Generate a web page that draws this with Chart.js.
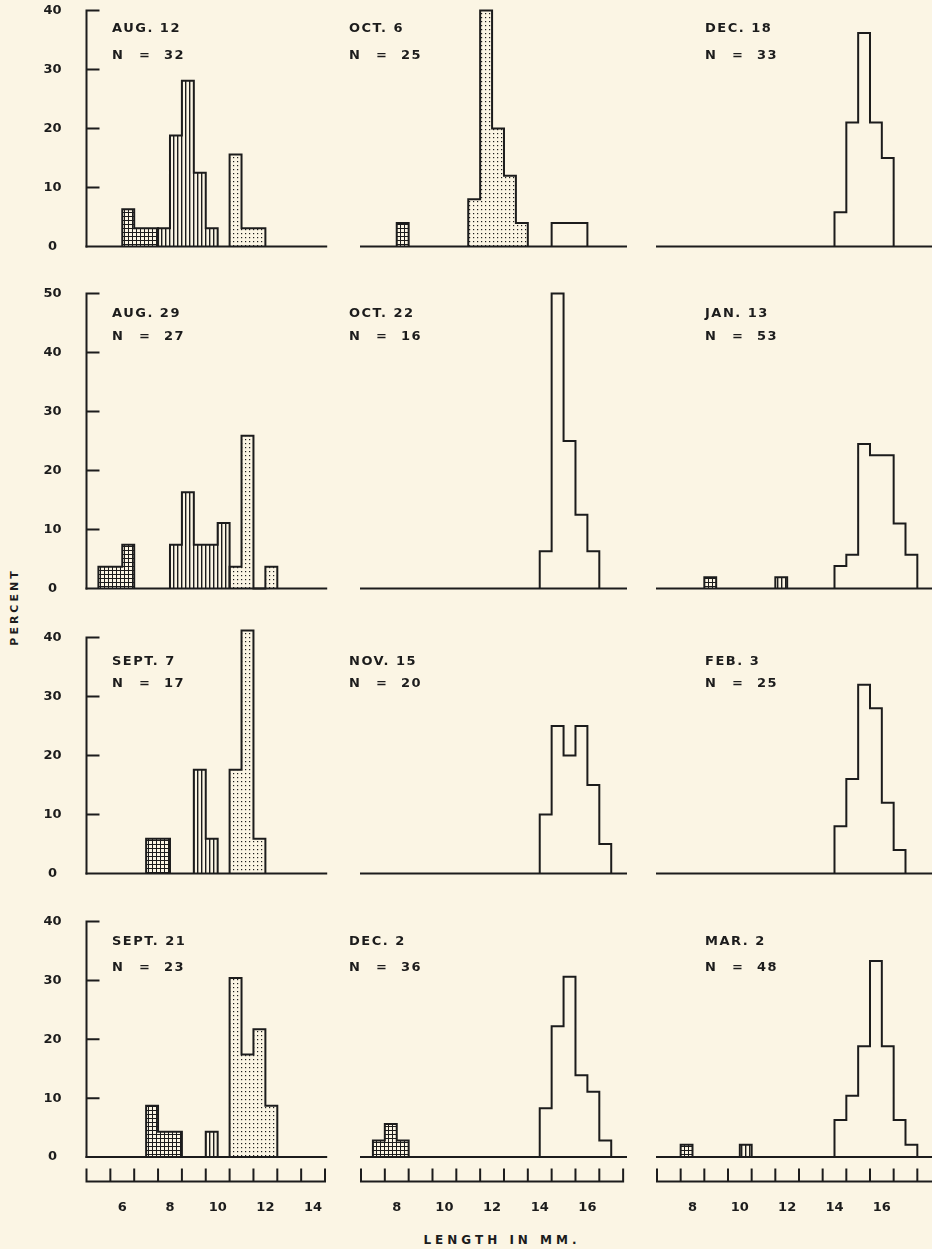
<!DOCTYPE html>
<html>
<head>
<meta charset="utf-8">
<script src="https://cdn.jsdelivr.net/npm/chart.js@4.4.1/dist/chart.umd.min.js"></script>
<style>
  html, body { margin: 0; padding: 0; background: #fbf5e4; }
  #page { position: relative; width: 932px; height: 1249px; overflow: hidden; }
  canvas { position: absolute; }
  .label { position: absolute; font-family: "DejaVu Sans", sans-serif; font-weight: bold; color: #1c1c1c; white-space: nowrap; }
  #ylabel { left: 14px; top: 607px; font-size: 11px; letter-spacing: 3px; transform: translate(-50%, -50%) rotate(-90deg); }
  #xlabel { left: 502px; top: 1240px; font-size: 12px; letter-spacing: 4px; transform: translate(-50%, -50%); }
</style>
</head>
<body>
<div id="page">
  <div id="ylabel" class="label">PERCENT</div>
  <div id="xlabel" class="label">LENGTH IN MM.</div>
</div>
<script>
// ---- data (percent of sample in each 0.5 mm length class) ----
var binWidth = 0.5;

var dates = ["AUG. 12", "OCT. 6", "DEC. 18", "AUG. 29", "OCT. 22", "JAN. 13",
             "SEPT. 7", "NOV. 15", "FEB. 3", "SEPT. 21", "DEC. 2", "MAR. 2"];
var sampleN = [32, 25, 33, 27, 16, 53, 17, 20, 25, 23, 36, 48];

// lower edge (mm) of the first class of each group, panel by panel (null = none)
var crossStart = [6.0, 8.0, null, 5.0, null, 8.5, 7.0, null, null, 7.0, 7.0, 7.5];
var crossPct = [[6.3, 3.1, 3.1], [4], [], [3.7, 3.7, 7.4], [], [1.9],
                [5.9, 5.9], [], [], [8.7, 4.3, 4.3], [2.8, 5.6, 2.8], [2.1]];

var barredStart = [7.5, null, null, 8.0, null, 11.5, 9.0, null, null, 9.5, null, 10.0];
var barredPct = [[3.1, 18.8, 28.1, 12.5, 3.1], [], [], [7.4, 16.3, 7.4, 7.4, 11.1], [], [1.9],
                 [17.6, 5.9], [], [], [4.3], [], [2.1]];

var dottedStart = [10.5, 11.0, null, 10.5, null, null, 10.5, null, null, 10.5, null, null];
var dottedPct = [[15.6, 3.1, 3.1], [8, 40, 20, 12, 4], [], [3.7, 25.9, 0, 3.7], [], [],
                 [17.6, 41.2, 5.9], [], [], [30.4, 17.4, 21.7, 8.7], [], []];

var openStart = [null, 14.5, 14.0, null, 14.0, 14.0, null, 14.0, 14.0, null, 14.0, 14.0];
var openPct = [[], [4, 4, 4], [5.8, 21, 36.2, 21, 15], [], [6.3, 50, 25, 12.5, 6.3],
               [3.8, 5.7, 24.5, 22.6, 22.6, 11, 5.7], [], [10, 25, 20, 25, 15, 5],
               [8, 16, 32, 28, 12, 4], [], [8.3, 22.2, 30.6, 13.9, 11.1, 2.8],
               [6.3, 10.4, 18.8, 33.3, 18.8, 6.3, 2.1]];

var yTicks = [[0, 10, 20, 30, 40], [0, 10, 20, 30, 40, 50], [0, 10, 20, 30, 40], [0, 10, 20, 30, 40]];
var xTickLabels = [[6, 8, 10, 12, 14], [8, 10, 12, 14, 16], [8, 10, 12, 14, 16]];

// ---- layout ----
var ink = "#1c1c1c";
var headroom = 1.5;
var cols = [
  { left: 0, width: 340, xMin: 4.5, xMax: 14.55, areaL: 86.5, areaR: 326.2, ruler: [4.5, 14.5], textX: 112 },
  { left: 340, width: 296, xMin: 6.5, xMax: 17.62, areaL: 361, areaR: 626, ruler: [6.5, 17.5], textX: 349 },
  { left: 640, width: 292, xMin: 6.5, xMax: 18.12, areaL: 657, areaR: 932, ruler: [6.5, 18.5], textX: 705 }
];
var rows = [
  { top: 0, height: 258, base: 246.5, topTick: 10.5, titleY: 29, nY: 55.5 },
  { top: 262, height: 336, base: 588.5, topTick: 293.5, titleY: 313.5, nY: 337 },
  { top: 600, height: 283, base: 873.5, topTick: 637.5, titleY: 661.5, nY: 683.5 },
  { top: 890, height: 359, base: 1157, topTick: 921.5, titleY: 941.5, nY: 968 }
];

function makePattern(draw) {
  var c = document.createElement("canvas");
  c.width = 4; c.height = 4;
  var g = c.getContext("2d");
  g.fillStyle = ink;
  draw(g);
  return g.createPattern(c, "repeat");
}
var crossFill = makePattern(function (g) { g.fillRect(0, 0, 4, 1); g.fillRect(0, 0, 1, 4); });
var barFill = makePattern(function (g) { g.fillRect(1, 0, 1.4, 4); });
var dotFill = makePattern(function (g) { g.fillRect(1, 1, 1.2, 1.2); });

// outline of a run of classes, as points for a stepped line
function stepPoints(start, pct) {
  var pts = [{ x: start, y: 0 }];
  pct.forEach(function (v, i) { pts.push({ x: start + i * binWidth, y: v }); });
  pts.push({ x: start + pct.length * binWidth, y: 0 });
  return pts;
}

var frame = {
  id: "frame",
  afterDatasetsDraw: function (chart, args, o) {
    var ctx = chart.ctx, x = chart.scales.x, y = chart.scales.y;
    var col = cols[o.col], row = rows[o.row];
    var y0 = y.getPixelForValue(0);
    ctx.save();
    ctx.strokeStyle = ink;
    ctx.fillStyle = ink;
    ctx.lineWidth = 2;
    ctx.lineCap = "square";

    // zero line
    ctx.beginPath();
    ctx.moveTo(x.getPixelForValue(col.xMin), y0);
    ctx.lineTo(x.getPixelForValue(col.xMax), y0);
    ctx.stroke();

    ctx.font = 'bold 13px "DejaVu Sans"';
    ctx.textBaseline = "middle";

    // percent axis, first column only
    if (o.col === 0) {
      var ax = x.getPixelForValue(col.xMin);
      var ticks = yTicks[o.row];
      ctx.beginPath();
      ctx.moveTo(ax, y0);
      ctx.lineTo(ax, y.getPixelForValue(ticks[ticks.length - 1]));
      ticks.forEach(function (v) {
        if (v > 0) {
          ctx.moveTo(ax, y.getPixelForValue(v));
          ctx.lineTo(ax + 12, y.getPixelForValue(v));
        }
      });
      ctx.stroke();
      ctx.textAlign = "center";
      ticks.forEach(function (v) {
        ctx.fillText(String(v), ax - 34, y.getPixelForValue(v));
      });
    }

    // length ruler, bottom row only
    if (o.row === 3) {
      var ry = y0 + 24.5;
      ctx.beginPath();
      ctx.moveTo(x.getPixelForValue(col.ruler[0]), ry);
      ctx.lineTo(x.getPixelForValue(col.ruler[1]), ry);
      for (var v = col.ruler[0]; v <= col.ruler[1]; v += 1) {
        ctx.moveTo(x.getPixelForValue(v), ry);
        ctx.lineTo(x.getPixelForValue(v), ry - 12);
      }
      ctx.stroke();
      ctx.textAlign = "center";
      xTickLabels[o.col].forEach(function (t) {
        ctx.fillText(String(t), x.getPixelForValue(t), ry + 26);
      });
    }

    // date and sample size
    var tx = col.textX - col.left;
    ctx.textAlign = "left";
    ctx.letterSpacing = "1.5px";
    ctx.fillText(dates[o.idx], tx, row.titleY - row.top);
    ctx.fillText("N", tx, row.nY - row.top);
    ctx.fillText("=", tx + 27, row.nY - row.top);
    ctx.fillText(String(sampleN[o.idx]), tx + 52, row.nY - row.top);
    ctx.restore();
  }
};

var page = document.getElementById("page");

rows.forEach(function (row, r) {
  cols.forEach(function (col, c) {
    var idx = r * 3 + c;
    var canvas = document.createElement("canvas");
    canvas.width = col.width;
    canvas.height = row.height;
    canvas.style.left = col.left + "px";
    canvas.style.top = row.top + "px";
    page.appendChild(canvas);

    var yTop = yTicks[r][yTicks[r].length - 1];
    var pxPerUnit = (row.base - row.topTick) / yTop;

    var groups = [
      [crossStart[idx], crossPct[idx], crossFill],
      [barredStart[idx], barredPct[idx], barFill],
      [dottedStart[idx], dottedPct[idx], dotFill],
      [openStart[idx], openPct[idx], null]
    ];
    var datasets = [];
    groups.forEach(function (g) {
      if (g[0] === null) return;
      datasets.push({
        data: stepPoints(g[0], g[1]),
        stepped: true,
        fill: g[2] ? "origin" : false,
        backgroundColor: g[2] || "transparent",
        borderColor: ink,
        borderWidth: 2,
        borderJoinStyle: "miter",
        pointRadius: 0,
        clip: false
      });
    });

    new Chart(canvas, {
      type: "line",
      data: { datasets: datasets },
      options: {
        responsive: false,
        animation: false,
        events: [],
        layout: {
          padding: {
            left: col.areaL - col.left,
            right: col.left + col.width - col.areaR,
            top: row.topTick - headroom * pxPerUnit - row.top,
            bottom: row.top + row.height - row.base
          }
        },
        plugins: {
          legend: { display: false },
          tooltip: { enabled: false },
          frame: { row: r, col: c, idx: idx }
        },
        scales: {
          x: { type: "linear", display: false, min: col.xMin, max: col.xMax },
          y: { display: false, min: 0, max: yTop + headroom }
        }
      },
      plugins: [frame]
    });
  });
});
</script>
</body>
</html>
